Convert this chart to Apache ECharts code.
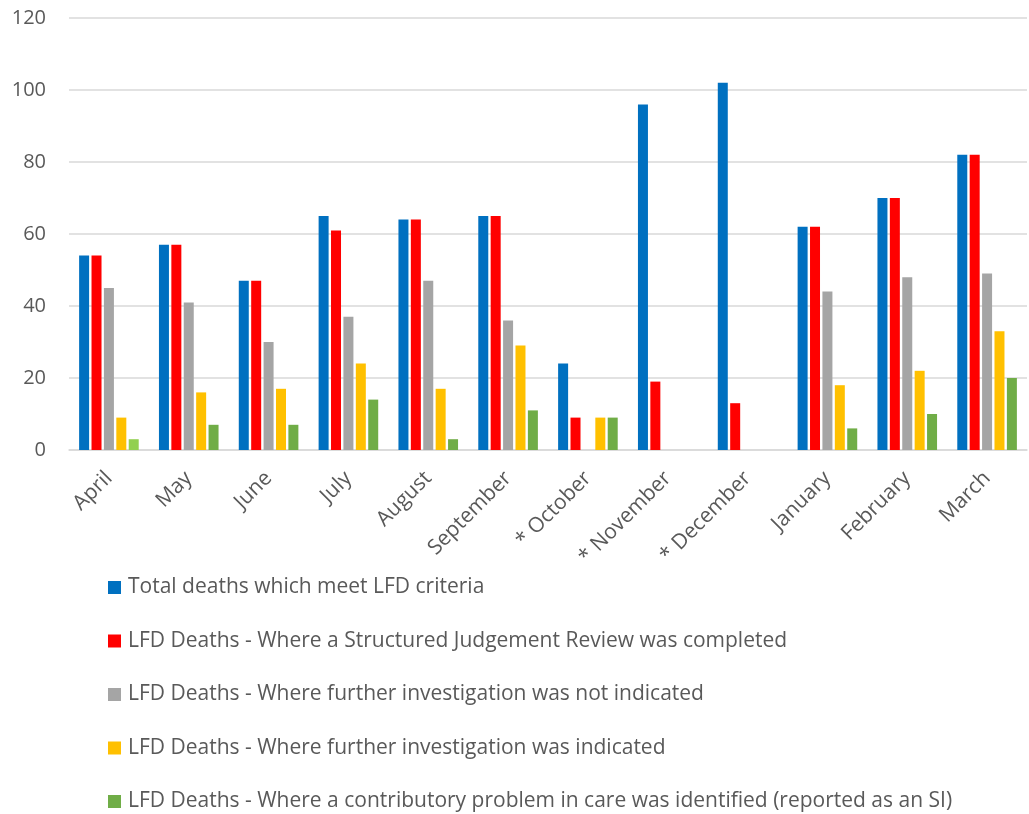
<!DOCTYPE html>
<html>
<head>
<meta charset="utf-8">
<script src="https://cdn.jsdelivr.net/npm/echarts@6/dist/echarts.min.js"></script>
<style>
  html, body { margin: 0; padding: 0; background: #fff; }
  #chart { width: 1029px; height: 814px; }
</style>
</head>
<body>
<div id="chart"></div>
<script>
var months = ['April', 'May', 'June', 'July', 'August', 'September', '* October', '* November', '* December', 'January', 'February', 'March'];
var seriesNames = [
    'Total deaths which meet LFD criteria',
    'LFD Deaths - Where a Structured Judgement Review was completed',
    'LFD Deaths - Where further investigation was not indicated',
    'LFD Deaths - Where further investigation was indicated',
    'LFD Deaths - Where a contributory problem in care was identified (reported as an SI)'
];
var totalDeaths   = [54, 57, 47, 65, 64, 65, 24, 96, 102, 62, 70, 82];
var sjrCompleted  = [54, 57, 47, 61, 64, 65, 9, 19, 13, 62, 70, 82];
var notIndicated  = [45, 41, 30, 37, 47, 36, null, null, null, 44, 48, 49];
var indicated     = [9, 16, 17, 24, 17, 29, 9, null, null, 18, 22, 33];
var contributory  = [3, 7, 7, 14, 3, 11, 9, null, null, 6, 10, 20];
var yTicks = [0, 20, 40, 60, 80, 100, 120];

var colors = ['#0070C0', '#FF0000', '#A5A5A5', '#FFC000', '#70AD47'];
var allValues = [totalDeaths, sjrCompleted, notIndicated, indicated, contributory];

var fontFamily = '"Open Sans", sans-serif';

var series = [];
for (var i = 0; i < seriesNames.length; i++) {
    var data = allValues[i].slice();
    if (i == 4) {
        // April's bar uses a lighter green in the original
        data[0] = { value: data[0], itemStyle: { color: '#92D050' } };
    }
    series.push({
        name: seriesNames[i],
        type: 'bar',
        barWidth: 10,
        barGap: '24%',
        itemStyle: { color: colors[i] },
        data: data
    });
}

var myChart = echarts.init(document.getElementById('chart'), null, { renderer: 'canvas' });
var option = {
    backgroundColor: '#fff',
    animation: false,
    color: colors,
    grid: { left: 69, right: 2, top: 18, bottom: 364, containLabel: false },
    legend: {
        orient: 'vertical',
        left: 108,
        top: 577,
        height: 237,
        padding: 0,
        itemWidth: 13,
        itemHeight: 13,
        itemGap: 32.5,
        icon: 'rect',
        textStyle: { color: '#595959', fontSize: 21, lineHeight: 21, fontFamily: fontFamily, padding: [0, 0, 0, 2] },
        data: seriesNames
    },
    xAxis: {
        type: 'category',
        data: months,
        axisLine: { lineStyle: { color: '#D9D9D9', width: 1.5 } },
        axisTick: { show: false },
        axisLabel: {
            rotate: 45,
            color: '#595959',
            fontSize: 21,
            fontFamily: fontFamily,
            margin: 25,
            interval: 0
        }
    },
    yAxis: {
        type: 'value',
        min: yTicks[0],
        max: yTicks[yTicks.length - 1],
        interval: 20,
        axisLine: { show: false },
        axisTick: { show: false },
        axisLabel: { color: '#595959', fontSize: 20, fontFamily: fontFamily, margin: 23 },
        splitLine: { lineStyle: { color: '#D9D9D9', width: 1.5 } }
    },
    series: series
};

if (option && typeof option === 'object') {
    myChart.setOption(option);
}
</script>
</body>
</html>
